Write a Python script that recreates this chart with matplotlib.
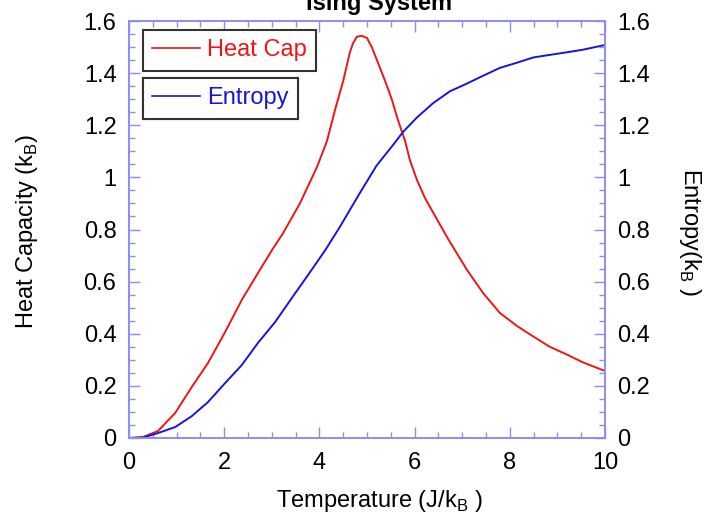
import matplotlib
matplotlib.use("Agg")
import matplotlib.pyplot as plt
from matplotlib.lines import Line2D
from matplotlib.ticker import MultipleLocator

plt.rcParams['font.family'] = ['Liberation Sans', 'DejaVu Sans']
plt.rcParams['mathtext.fontset'] = 'custom'
plt.rcParams['mathtext.rm'] = 'Liberation Sans'

# Temperature (J/k_B) and values
temp_cv = [0, 0.3, 0.61, 0.97, 1.32, 1.66, 2.02, 2.37, 2.71, 3.0, 3.24, 3.59,
           3.95, 4.16, 4.33, 4.50, 4.64, 4.71, 4.79, 4.89, 5.0, 5.1, 5.23,
           5.38, 5.52, 5.65, 5.8, 5.9, 6.05, 6.22, 6.39, 6.7, 7.1, 7.44,
           7.79, 8.15, 8.49, 8.84, 9.2, 9.54, 10]
heat_cap = [0, 0.004, 0.027, 0.096, 0.196, 0.288, 0.407, 0.53, 0.633, 0.72,
            0.787, 0.90, 1.04, 1.14, 1.26, 1.37, 1.48, 1.516, 1.54, 1.543,
            1.535, 1.50, 1.44, 1.37, 1.30, 1.22, 1.14, 1.067, 0.99, 0.92,
            0.865, 0.765, 0.645, 0.556, 0.48, 0.43, 0.39, 0.35, 0.32, 0.29,
            0.257]

temp_s = [0, 0.3, 0.61, 0.97, 1.32, 1.66, 2.02, 2.37, 2.71, 3.07, 3.42, 3.76,
          4.12, 4.43, 4.85, 5.2, 5.55, 5.76, 6.05, 6.39, 6.74, 7.1, 7.44,
          7.79, 8.15, 8.49, 8.84, 9.2, 9.54, 10]
entropy = [0, 0.002, 0.019, 0.042, 0.084, 0.138, 0.211, 0.28, 0.365, 0.445,
           0.537, 0.625, 0.72, 0.81, 0.94, 1.045, 1.125, 1.175, 1.23, 1.285,
           1.33, 1.36, 1.39, 1.42, 1.44, 1.46, 1.47, 1.48, 1.49, 1.508]

AXIS_BLUE = '#8c8cf5'
RED = '#ee1515'
BLUE = '#1515dd'
FS = 17

fig = plt.figure(figsize=(7.07, 5.2), dpi=100)
ax = fig.add_axes([129 / 707, 82 / 520, 476 / 707, 417 / 520])
ax2 = ax.twinx()

ax.plot(temp_cv, heat_cap, color=RED, lw=1.4)
ax.plot(temp_s, entropy, color=BLUE, lw=1.4)

for a in (ax, ax2):
    a.set_xlim(0, 10)
    a.set_ylim(0, 1.6)
    a.yaxis.set_major_locator(MultipleLocator(0.2))
    a.yaxis.set_minor_locator(MultipleLocator(0.05))
    for s in a.spines.values():
        s.set_color(AXIS_BLUE)
        s.set_linewidth(1.2)
    a.tick_params(which='both', direction='in', color=AXIS_BLUE, width=1,
                  labelsize=FS)
    a.tick_params(which='major', length=8)
    a.tick_params(which='minor', length=4)
    a.yaxis.set_major_formatter(plt.FuncFormatter(lambda v, p: f"{v:g}"))

ax.xaxis.set_major_locator(MultipleLocator(2))
ax.xaxis.set_minor_locator(MultipleLocator(0.5))
ax.tick_params(axis='x', which='both', top=True, pad=10)
ax.tick_params(axis='y', pad=9)
ax2.tick_params(axis='y', pad=9)

# axis labels placed as in the reference
fig.text(379 / 707, 1 - 507 / 520, r"Temperature (J/k$_\mathregular{B}$ )",
         fontsize=FS, ha='center', va='baseline')
fig.text(27 / 707, 1 - 231 / 520, r"Heat Capacity (k$_\mathregular{B}$)",
         fontsize=FS, rotation=90, ha='center', va='center')
fig.text(690 / 707, 1 - 232 / 520, r"Entropy(k$_\mathregular{B}$ )",
         fontsize=FS, rotation=270, ha='center', va='center')

fig.text(379 / 707, 1 - 10 / 520, "Ising System", fontsize=FS, weight='bold',
         ha='center', va='baseline')

# two separate legend boxes
labels = ["Heat Cap", "Entropy"]
colors = [RED, BLUE]
tops = [30, 78]
for lab, col, top in zip(labels, colors, tops):
    leg = ax.legend([Line2D([], [], color=col, lw=1.2)], [lab],
                    loc='upper left', bbox_to_anchor=(143 / 707, 1 - top / 520),
                    bbox_transform=fig.transFigure, borderaxespad=0,
                    fontsize=FS, fancybox=False, framealpha=1,
                    handlelength=2.0, handletextpad=0.3, borderpad=0.4)
    leg.get_frame().set_edgecolor('#333333')
    leg.get_frame().set_linewidth(1.5)
    for t in leg.get_texts():
        t.set_color(col)
    ax.add_artist(leg)

plt.savefig("out.png", dpi=100)
